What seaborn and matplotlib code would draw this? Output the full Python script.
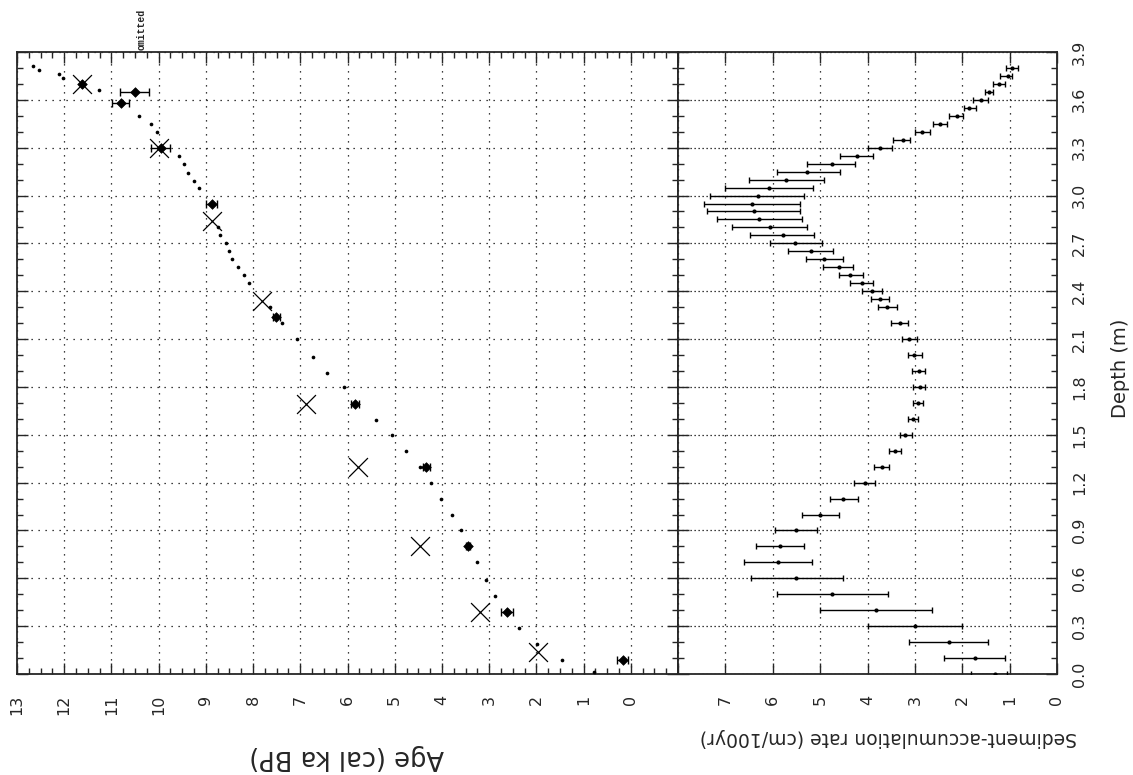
import numpy as np
import matplotlib
matplotlib.use("Agg")
import matplotlib.pyplot as plt
import seaborn as sns
from matplotlib.ticker import MultipleLocator, FixedLocator

# ---------------- data: left panel (age-depth) ----------------
model_age = [12.66, 12.54, 12.11, 12.03, 11.27, 10.42, 10.17, 10.04, 9.56, 9.47,
             9.37, 9.26, 9.15, 8.75, 8.69, 8.58, 8.52, 8.44, 8.31, 8.20,
             8.08, 7.65, 7.38, 7.08, 6.74, 6.43, 6.07, 5.39, 5.05, 4.76,
             4.46, 4.23, 4.02, 3.78, 3.59, 3.26, 3.07, 2.88, 2.37, 1.99,
             1.46, 0.78]
model_depth = [3.81, 3.79, 3.76, 3.74, 3.66, 3.50, 3.45, 3.40, 3.25, 3.20,
               3.14, 3.09, 3.05, 2.80, 2.75, 2.70, 2.65, 2.60, 2.55, 2.50,
               2.45, 2.30, 2.20, 2.10, 1.99, 1.89, 1.80, 1.59, 1.50, 1.40,
               1.30, 1.20, 1.10, 1.00, 0.90, 0.70, 0.59, 0.49, 0.29, 0.19,
               0.09, 0.01]

cal_age = [11.63, 10.51, 10.80, 9.96, 8.88, 7.51, 5.84, 4.33, 3.45, 2.62, 0.17]
cal_err = [0.00, 0.30, 0.18, 0.20, 0.12, 0.07, 0.08, 0.08, 0.05, 0.12, 0.12]
cal_depth = [3.70, 3.65, 3.58, 3.30, 2.95, 2.24, 1.69, 1.30, 0.80, 0.39, 0.09]

c14_age = [11.63, 10.00, 8.88, 7.82, 6.87, 5.77, 4.46, 3.19, 1.97]
c14_depth = [3.70, 3.30, 2.84, 2.34, 1.69, 1.30, 0.80, 0.39, 0.14]

omitted_age = 10.36
omitted_text = "omitted"

# ---------------- data: right panel (accumulation rate) ----------------
rate_depth = [0.0, 0.1, 0.2, 0.3, 0.4, 0.5, 0.6, 0.7, 0.8, 0.9,
              1.0, 1.1, 1.2, 1.3, 1.4, 1.5, 1.6, 1.7, 1.8, 1.9,
              2.0, 2.1, 2.2, 2.3, 2.35, 2.4, 2.45, 2.5, 2.55, 2.6,
              2.65, 2.7, 2.75, 2.8, 2.85, 2.9, 2.95, 3.0, 3.05, 3.1,
              3.15, 3.2, 3.25, 3.3, 3.35, 3.4, 3.45, 3.5, 3.55, 3.6,
              3.65, 3.7, 3.75, 3.8]
rate = [1.31, 1.73, 2.27, 3.00, 3.82, 4.74, 5.51, 5.89, 5.84, 5.51,
        5.01, 4.51, 4.05, 3.70, 3.42, 3.21, 3.04, 2.93, 2.90, 2.91,
        3.02, 3.12, 3.31, 3.58, 3.73, 3.91, 4.12, 4.37, 4.61, 4.92,
        5.20, 5.53, 5.79, 6.05, 6.28, 6.39, 6.43, 6.31, 6.08, 5.72,
        5.28, 4.75, 4.23, 3.73, 3.26, 2.84, 2.47, 2.12, 1.86, 1.61,
        1.43, 1.22, 1.03, 0.94]
rate_lo = [1.05, 1.09, 1.45, 2.00, 2.64, 3.56, 4.51, 5.18, 5.33, 5.07,
           4.61, 4.19, 3.84, 3.54, 3.29, 3.07, 2.93, 2.82, 2.78, 2.78,
           2.86, 2.96, 3.14, 3.38, 3.54, 3.70, 3.88, 4.09, 4.30, 4.51,
           4.72, 4.96, 5.13, 5.28, 5.39, 5.42, 5.42, 5.34, 5.15, 4.92,
           4.59, 4.26, 3.88, 3.49, 3.10, 2.69, 2.33, 1.99, 1.72, 1.45,
           1.36, 1.10, 0.95, 0.83]
rate_hi = [1.81, 2.38, 3.12, 4.00, 5.00, 5.91, 6.46, 6.60, 6.36, 5.95,
           5.39, 4.80, 4.28, 3.86, 3.54, 3.31, 3.14, 3.05, 3.04, 3.06,
           3.14, 3.28, 3.50, 3.77, 3.93, 4.12, 4.37, 4.61, 4.94, 5.30,
           5.67, 6.05, 6.48, 6.85, 7.18, 7.39, 7.45, 7.32, 7.00, 6.50,
           5.91, 5.27, 4.59, 4.00, 3.47, 2.99, 2.62, 2.27, 1.96, 1.77,
           1.53, 1.36, 1.20, 1.08]

depth_ticks = [round(0.3 * i, 1) for i in range(14)]
age_ticks = list(range(0, 14))
rate_ticks = list(range(0, 9))
rate_ticklabels = [str(v) for v in range(0, 8)] + [""]

# ---------------- style ----------------
sns.set_style("ticks")
plt.rcParams["font.family"] = ["DejaVu Sans"]
plt.rcParams["axes.linewidth"] = 1.3

W, H = 1133, 775
fig = plt.figure(figsize=(W / 100, H / 100), dpi=100)
fig.patch.set_facecolor("white")

x0, xm, x1 = 17, 678, 1057
y_top, y_bot = 52, 674
ax1 = fig.add_axes([x0 / W, 1 - y_bot / H, (xm - x0) / W, (y_bot - y_top) / H])
ax2 = fig.add_axes([xm / W, 1 - y_bot / H, (x1 - xm) / W, (y_bot - y_top) / H])

grid_kw = dict(color="black", linewidth=0.9)

# ---- left panel ----
ax1.errorbar(cal_age, cal_depth, xerr=cal_err, fmt="none", ecolor="black",
             elinewidth=1.0, capsize=3.0, capthick=1.0, zorder=3)
sns.scatterplot(x=model_age, y=model_depth, marker="o", s=7, color="black",
                linewidth=0, ax=ax1, zorder=4)
sns.scatterplot(x=cal_age, y=cal_depth, marker="D", s=24, color="black",
                edgecolor="black", linewidth=0.5, ax=ax1, zorder=5)
sns.scatterplot(x=c14_age, y=c14_depth, marker="x", s=185, color="black",
                linewidth=0.9, ax=ax1, zorder=5)

ax1.set_xlim(13, -1)
ax1.set_ylim(0, 3.9)
ax1.xaxis.set_major_locator(FixedLocator(age_ticks))
ax1.set_xticklabels([str(v) for v in age_ticks])
ax1.xaxis.set_minor_locator(MultipleLocator(0.25))
ax1.yaxis.set_major_locator(FixedLocator(depth_ticks))
ax1.yaxis.set_minor_locator(MultipleLocator(0.1))
ax1.tick_params(axis="both", which="both", direction="in", top=True, bottom=True,
                left=True, right=True, labelleft=False, width=1.0)
ax1.tick_params(axis="both", which="major", length=8)
ax1.tick_params(axis="both", which="minor", length=4.5)
ax1.tick_params(axis="x", which="major", labelrotation=90, labelsize=11.5, pad=15)
ax1.xaxis.grid(True, which="major", linestyle=(0, (1, 4.6)), **grid_kw)
ax1.yaxis.grid(True, which="major", linestyle=(0, (1, 4.6)), **grid_kw)
ax1.set_xlabel("")
ax1.set_ylabel("")
ax1.text(omitted_age, 3.91, omitted_text, rotation=90, ha="center", va="bottom",
         family=["Liberation Mono", "DejaVu Sans Mono"], fontsize=7,
         fontweight="bold", clip_on=False)

# ---- right panel ----
r = np.array(rate)
xerr = [r - np.array(rate_lo), np.array(rate_hi) - r]
ax2.errorbar(rate, rate_depth, xerr=xerr, fmt="none", ecolor="black",
             elinewidth=1.0, capsize=2.3, capthick=1.0, zorder=3)
sns.scatterplot(x=rate, y=rate_depth, marker="o", s=9, color="black",
                linewidth=0, ax=ax2, zorder=4)
ax2.set_xlim(8, 0)
ax2.set_ylim(0, 3.9)
ax2.xaxis.set_major_locator(FixedLocator(rate_ticks))
ax2.set_xticklabels(rate_ticklabels)
ax2.yaxis.set_major_locator(FixedLocator(depth_ticks))
ax2.set_yticklabels([f"{v:.1f}" for v in depth_ticks])
ax2.yaxis.set_minor_locator(MultipleLocator(0.1))
ax2.yaxis.tick_right()
ax2.tick_params(axis="both", which="both", direction="in", top=True, bottom=True,
                left=True, right=True, labelleft=False, labelright=True, width=1.0)
ax2.tick_params(axis="both", which="major", length=8)
ax2.tick_params(axis="both", which="minor", length=4.5)
ax2.tick_params(axis="x", which="major", labelrotation=90, labelsize=11.5, pad=15)
ax2.tick_params(axis="y", which="major", labelrotation=90, labelsize=11.5, pad=11)
for lab in ax2.get_yticklabels():
    lab.set_verticalalignment("center")
ax2.xaxis.grid(True, which="major", linestyle=(0, (1, 4.6)), **grid_kw)
ax2.yaxis.grid(True, which="major", linestyle=(0, (1, 2.2)), **grid_kw)
ax2.set_xlabel("")
ax2.set_ylabel("")

# ---- axis titles (figure rotated orientation) ----
fig.text(347 / W, 1 - 757 / H, "Age (cal ka BP)", rotation=180, ha="center",
         va="center", fontsize=18.5)
fig.text(888 / W, 1 - 737 / H, "Sediment-accumulation rate (cm/100yr)",
         rotation=180, ha="center", va="center", fontsize=13.5)
fig.text(1121 / W, 1 - 368 / H, "Depth (m)", rotation=90, ha="center",
         va="center", fontsize=14)

fig.savefig("out.png", dpi=100, facecolor="white")
